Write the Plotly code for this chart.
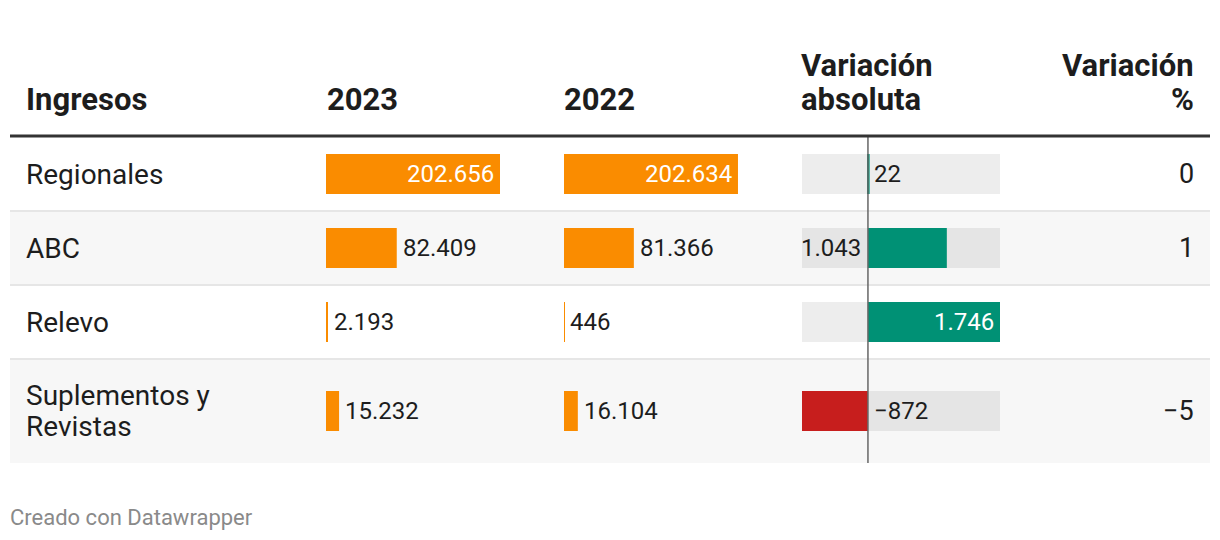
import plotly.graph_objects as go

# ---------------- data ----------------
categories = ["Regionales", "ABC", "Relevo", "Suplementos y\nRevistas"]
v2023 = [202656, 82409, 2193, 15232]
v2022 = [202634, 81366, 446, 16104]
var_abs = [22, 1043, 1746, -872]
var_pct = ["0", "1", "", "−5"]
headers = ["Ingresos", "2023", "2022", "Variación\nabsoluta", "Variación\n%"]
footer = "Creado con Datawrapper"

# label placement for the variation column (style)
var_label_pos = ["right", "left", "inside", "right"]
bar_label_inside = [True, False, False, False]

# ---------------- layout helpers ----------------
W, H = 1220, 540
FONT = "Roboto"
ORANGE = "#fa8c00"
GREEN = "#009175"
RED = "#c71e1d"
TXT = "#1d1d1d"

header_line_y = 136
row_heights = [74, 74, 74, 104]
row_tops = []
t = 137
for h in row_heights:
    row_tops.append(t)
    t += h
table_bottom = t
row_centers = [top + h / 2 for top, h in zip(row_tops, row_heights)]

def px(x):
    return x / W

def fmt(v):
    s = f"{abs(v):,}".replace(",", ".")
    return ("−" if v < 0 else "") + s

max_bar = max(max(v2023), max(v2022))
var_min, var_max = min(var_abs), max(var_abs)

fig = go.Figure()

fig.add_trace(go.Bar(x=v2023, y=row_centers, orientation="h", width=40,
                     marker=dict(color=ORANGE, line=dict(width=0)),
                     xaxis="x", yaxis="y", hoverinfo="skip"))
fig.add_trace(go.Bar(x=v2022, y=row_centers, orientation="h", width=40,
                     marker=dict(color=ORANGE, line=dict(width=0)),
                     xaxis="x2", yaxis="y", hoverinfo="skip"))
fig.add_trace(go.Bar(x=[var_max - var_min] * len(var_abs), base=[var_min] * len(var_abs),
                     y=row_centers, orientation="h", width=40,
                     marker=dict(color="rgba(0,0,0,0.07)", line=dict(width=0)),
                     xaxis="x3", yaxis="y", hoverinfo="skip"))
fig.add_trace(go.Bar(x=var_abs, y=row_centers, orientation="h", width=40,
                     marker=dict(color=[GREEN if v >= 0 else RED for v in var_abs],
                                 line=dict(width=0)),
                     xaxis="x3", yaxis="y", hoverinfo="skip"))

shapes = []
for i, (top, h) in enumerate(zip(row_tops, row_heights)):
    if i % 2 == 1:
        shapes.append(dict(type="rect", xref="paper", yref="y", x0=px(10), x1=px(1210),
                           y0=top, y1=top + h, fillcolor="#f7f7f7", line=dict(width=0),
                           layer="below"))
for top in row_tops[1:]:
    shapes.append(dict(type="line", xref="paper", yref="y", x0=px(10), x1=px(1210),
                       y0=top, y1=top, line=dict(color="#e6e6e6", width=2), layer="above"))
shapes.append(dict(type="line", xref="x3", yref="y", x0=0, x1=0, y0=row_tops[0],
                   y1=table_bottom, line=dict(color="#666666", width=1.5), layer="above"))
shapes.append(dict(type="line", xref="paper", yref="y", x0=px(10), x1=px(1210),
                   y0=header_line_y, y1=header_line_y, line=dict(color="#333333", width=3)))

ann = []
hdr_x = [24, 325, 562, 799, 1196]
hdr_last_center = 99
hdr_line_gap = 34
for i, (hx, txt) in enumerate(zip(hdr_x, headers)):
    lines = txt.split("\n")
    n = len(lines)
    for j, ln in enumerate(lines):
        ann.append(dict(text=f"<b>{ln}</b>", xref="paper", yref="y", x=px(hx),
                        y=hdr_last_center - (n - 1 - j) * hdr_line_gap,
                        xanchor="right" if i == 4 else "left", yanchor="middle",
                        showarrow=False, font=dict(family=FONT, size=31, color=TXT)))
cat_line_gap = 31
for c, y in zip(categories, row_centers):
    lines = c.split("\n")
    n = len(lines)
    for j, ln in enumerate(lines):
        ann.append(dict(text=ln, xref="paper", yref="y", x=px(24),
                        y=y + (j - (n - 1) / 2) * cat_line_gap, xanchor="left",
                        yanchor="middle", showarrow=False,
                        font=dict(family=FONT, size=28, color=TXT)))
for ax, vals in (("x", v2023), ("x2", v2022)):
    for v, y, inside in zip(vals, row_centers, bar_label_inside):
        ann.append(dict(text=fmt(v), xref=ax, yref="y", x=v, y=y,
                        xanchor="right" if inside else "left", yanchor="middle",
                        xshift=-4 if inside else 4, showarrow=False,
                        font=dict(family=FONT, size=24, color="white" if inside else TXT)))
for v, y, pos in zip(var_abs, row_centers, var_label_pos):
    if pos == "inside":
        d = dict(x=v, xanchor="right", xshift=-4, color="white")
    elif pos == "left":
        d = dict(x=0, xanchor="right", xshift=-5, color=TXT)
    else:
        d = dict(x=0, xanchor="left", xshift=4, color=TXT)
    ann.append(dict(text=fmt(v), xref="x3", yref="y", x=d["x"], y=y,
                    xanchor=d["xanchor"], yanchor="middle", xshift=d["xshift"],
                    showarrow=False, font=dict(family=FONT, size=24, color=d["color"])))
for p, y in zip(var_pct, row_centers):
    if p:
        ann.append(dict(text=p, xref="paper", yref="y", x=px(1196), y=y, xanchor="right",
                        yanchor="middle", showarrow=False,
                        font=dict(family=FONT, size=27, color=TXT)))
ann.append(dict(text=footer, xref="paper", yref="y", x=px(8), y=517, xanchor="left",
                yanchor="middle", showarrow=False,
                font=dict(family=FONT, size=22, color="#8a8a8a")))

hidden = dict(visible=False, showgrid=False, zeroline=False, fixedrange=True)
fig.update_layout(
    width=W, height=H, margin=dict(l=0, r=0, t=0, b=0),
    paper_bgcolor="white", plot_bgcolor="rgba(0,0,0,0)",
    showlegend=False, barmode="overlay",
    xaxis=dict(domain=[px(326), px(500)], range=[0, max_bar], **hidden),
    xaxis2=dict(domain=[px(564), px(738)], range=[0, max_bar], anchor="y", **hidden),
    xaxis3=dict(domain=[px(802), px(1000)], range=[var_min, var_max], anchor="y", **hidden),
    yaxis=dict(domain=[0, 1], range=[H, 0], **hidden),
    shapes=shapes, annotations=ann,
)

fig.write_html("out.html", post_script="document.body.style.margin='0';",
               config={"displayModeBar": False})
